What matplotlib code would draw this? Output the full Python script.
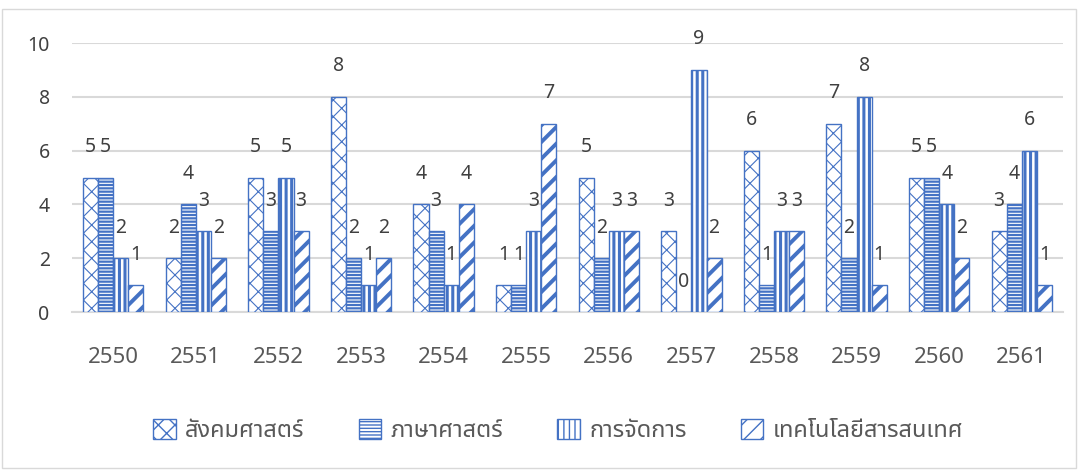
import matplotlib
matplotlib.use("Agg")
import matplotlib.pyplot as plt
from matplotlib import font_manager
from matplotlib.patches import Rectangle
import numpy as np

years = ["2550", "2551", "2552", "2553", "2554", "2555",
         "2556", "2557", "2558", "2559", "2560", "2561"]
series_names = ["สังคมศาสตร์", "ภาษาศาสตร์", "การจัดการ", "เทคโนโลยีสารสนเทศ"]
social = [5, 2, 5, 8, 4, 1, 5, 3, 6, 7, 5, 3]
language = [5, 4, 3, 2, 3, 1, 2, 0, 1, 2, 5, 4]
management = [2, 3, 5, 1, 1, 3, 3, 9, 3, 8, 4, 6]
it_tech = [1, 2, 3, 2, 4, 7, 3, 2, 3, 1, 2, 1]

# pick a Thai font that is installed
installed = {f.name for f in font_manager.fontManager.ttflist}
thai = [n for n in ["Noto Sans Thai", "Sarabun", "Kanit", "Prompt"] if n in installed]
plt.rcParams["font.family"] = thai[:1] + ["Noto Sans", "DejaVu Sans"]

blue = "#4472C4"
text_gray = "#595959"
hatches = ["xx", "-----", "|||", "//"]
hatch_lw = [0.8, 1.6, 2.2, 2.8]

fig = plt.figure(figsize=(10.82, 4.7), dpi=100)
ax = fig.add_axes([0.0665, 0.336, 0.916, 0.5725])

x = np.arange(len(years))
w = 0.183
data = [social, language, management, it_tech]
handles = []
for i, vals in enumerate(data):
    with plt.rc_context({"hatch.linewidth": hatch_lw[i]}):
        bars = ax.bar(x + (i - 1.5) * w, vals, w, facecolor="white",
                      edgecolor=blue, hatch=hatches[i], linewidth=1.0,
                      label=series_names[i], zorder=3)
    if hasattr(bars[0], "set_hatch_linewidth"):
        for b in bars:
            b.set_hatch_linewidth(hatch_lw[i])
    handles.append(bars)
    for xi, v in zip(x + (i - 1.5) * w, vals):
        ax.annotate(str(v), (xi, v), xytext=(0, 22), textcoords="offset points",
                    ha="center", va="center", fontsize=14, color="#404040")

ax.set_xlim(-0.5, len(years) - 0.5)
ax.set_ylim(0, 10)
ax.set_yticks([0, 2, 4, 6, 8, 10])
ax.set_xticks(x)
ax.set_xticklabels(years)
ax.tick_params(axis="x", length=0, pad=25, labelsize=16, labelcolor=text_gray)
ax.tick_params(axis="y", length=0, pad=16, labelsize=14, labelcolor="#404040")
ax.grid(axis="y", color="#D9D9D9", linewidth=1.5, zorder=0)
ax.set_axisbelow(True)
for s in ["top", "right", "left"]:
    ax.spines[s].set_visible(False)
ax.spines["bottom"].set_color("#D9D9D9")
ax.spines["bottom"].set_linewidth(1.5)

leg = fig.legend(handles=handles, loc="center", bbox_to_anchor=(0.516, 0.083),
                 ncol=4, frameon=False, fontsize=17, handlelength=0.95,
                 handleheight=0.95, handletextpad=0.4, columnspacing=2.3)
for t in leg.get_texts():
    t.set_color(text_gray)

fig.patches.append(Rectangle((0.002, 0.005), 0.992, 0.975, transform=fig.transFigure,
                             fill=False, edgecolor="#D9D9D9", linewidth=1.0))

fig.savefig("out.png", dpi=100)
